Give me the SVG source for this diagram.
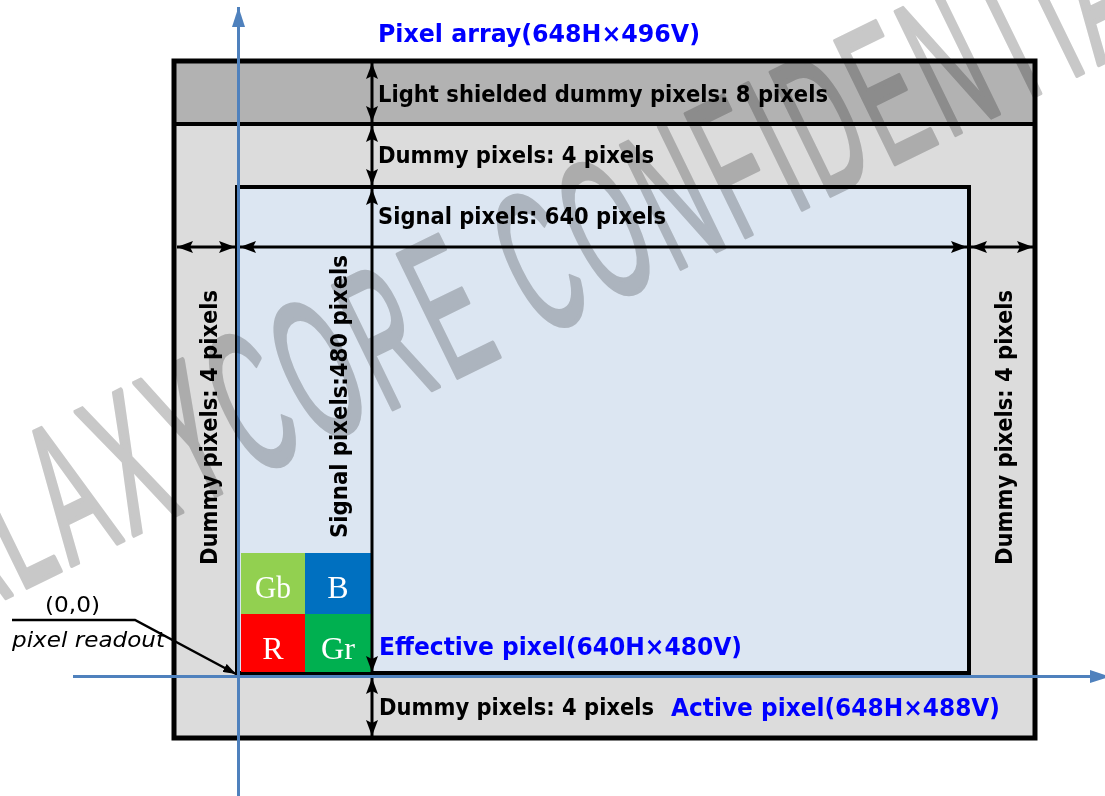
<svg xmlns="http://www.w3.org/2000/svg" width="1105" height="796" viewBox="0 0 1105 796">
  <defs>
    <!-- filled black head for the dimension lines -->
    <marker id="dim" markerUnits="userSpaceOnUse" viewBox="0 0 16 12" refX="16" refY="6" markerWidth="16" markerHeight="12" orient="auto-start-reverse">
      <path d="M0,0 L16,6 L0,12 L3,6 z" fill="#000"/>
    </marker>
    <!-- coordinate axis head -->
    <marker id="axis" markerUnits="userSpaceOnUse" viewBox="0 0 20 13" refX="20" refY="6.5" markerWidth="20" markerHeight="13" orient="auto">
      <path d="M0,0 L20,6.5 L0,13 z" fill="#4f81bd"/>
    </marker>
    <!-- leader arrow for the readout origin -->
    <marker id="lead" markerUnits="userSpaceOnUse" viewBox="0 0 13 9" refX="13" refY="4.5" markerWidth="13" markerHeight="9" orient="auto">
      <path d="M0,0 L13,4.5 L0,9 z" fill="#000"/>
    </marker>
    <style>
      .lbl{font-family:"DejaVu Sans Condensed","DejaVu Sans",sans-serif;font-weight:bold;font-size:23px;fill:#000}
      .blue{fill:#0000ff;font-size:24px}
      .note{font-family:"DejaVu Sans Condensed","DejaVu Sans",sans-serif;font-size:21px;fill:#000}
      .dl{stroke:#000;stroke-width:3;fill:none;marker-start:url(#dim);marker-end:url(#dim)}
      .ax{stroke:#4f81bd;stroke-width:3;fill:none;marker-end:url(#axis)}
      .bay{font-family:"Liberation Serif",serif;font-size:32px;fill:#fff;text-anchor:middle}
      .wm{font-family:"Liberation Sans",sans-serif;font-size:198px;letter-spacing:17px;fill:#c8c8c8;stroke:#c8c8c8;stroke-width:5;stroke-linejoin:round;mix-blend-mode:multiply}
    </style>
  </defs>

  <rect width="1105" height="796" fill="#fff"/>

  <!-- full pixel array: light shielded band on top, dummy border around -->
  <g id="pixel-array">
    <rect x="174" y="61" width="861" height="677" fill="#dcdcdc"/>
    <rect x="174" y="61" width="861" height="63" fill="#b2b2b2"/>
    <line x1="174" y1="124" x2="1035" y2="124" stroke="#000" stroke-width="4"/>
    <rect x="174" y="61" width="861" height="677" fill="none" stroke="#000" stroke-width="5"/>
  </g>

  <!-- effective (signal) area -->
  <g id="effective-area">
    <rect x="237" y="187" width="732" height="486" fill="#dce6f2" stroke="#000" stroke-width="4"/>
  </g>

  <!-- Bayer cell at the origin corner -->
  <g id="bayer-cell">
    <rect x="241" y="553" width="64" height="61" fill="#92d050"/>
    <rect x="305" y="553" width="66" height="61" fill="#0070c0"/>
    <rect x="241" y="614" width="64" height="58" fill="#ff0000"/>
    <rect x="305" y="614" width="66" height="58" fill="#00b050"/>
    <text class="bay" x="273" y="598" textLength="36" lengthAdjust="spacingAndGlyphs">Gb</text>
    <text class="bay" x="338" y="598">B</text>
    <text class="bay" x="273" y="659">R</text>
    <text class="bay" x="338" y="659" textLength="34" lengthAdjust="spacingAndGlyphs">Gr</text>
  </g>

  <g id="connectors">
    <!-- vertical dimensions -->
    <line class="dl" x1="372" y1="63" x2="372" y2="122"/>
    <line class="dl" x1="372" y1="126" x2="372" y2="185"/>
    <line class="dl" x1="372" y1="189" x2="372" y2="672"/>
    <line class="dl" x1="372" y1="678" x2="372" y2="736"/>
    <!-- horizontal dimensions -->
    <line class="dl" x1="177" y1="247" x2="235" y2="247"/>
    <line class="dl" x1="240" y1="247" x2="967" y2="247"/>
    <line class="dl" x1="971" y1="247" x2="1033" y2="247"/>
    <!-- coordinate axes -->
    <line class="ax" x1="238.5" y1="796" x2="238.5" y2="7"/>
    <line class="ax" x1="73" y1="676.5" x2="1110" y2="676.5"/>
    <!-- origin leader -->
    <polyline points="12,620 135,620 236,674" fill="none" stroke="#000" stroke-width="2.5" marker-end="url(#lead)"/>
  </g>

  <g id="labels">
    <text class="lbl blue" x="378" y="42" textLength="322" lengthAdjust="spacingAndGlyphs">Pixel array(648H×496V)</text>
    <text class="lbl" x="378" y="102" textLength="450" lengthAdjust="spacingAndGlyphs">Light shielded dummy pixels: 8 pixels</text>
    <text class="lbl" x="378" y="163" textLength="276" lengthAdjust="spacingAndGlyphs">Dummy pixels: 4 pixels</text>
    <text class="lbl" x="378" y="224" textLength="288" lengthAdjust="spacingAndGlyphs">Signal pixels: 640 pixels</text>
    <text class="lbl blue" x="379" y="655" textLength="363" lengthAdjust="spacingAndGlyphs">Effective pixel(640H×480V)</text>
    <text class="lbl" x="379" y="715" textLength="275" lengthAdjust="spacingAndGlyphs">Dummy pixels: 4 pixels</text>
    <text class="lbl blue" x="671" y="716" textLength="329" lengthAdjust="spacingAndGlyphs">Active pixel(648H×488V)</text>
    <text class="lbl" transform="translate(347,538) rotate(-90)" textLength="283" lengthAdjust="spacingAndGlyphs">Signal pixels:480 pixels</text>
    <text class="lbl" transform="translate(217,565) rotate(-90)" textLength="275" lengthAdjust="spacingAndGlyphs">Dummy pixels: 4 pixels</text>
    <text class="lbl" transform="translate(1012,565) rotate(-90)" textLength="275" lengthAdjust="spacingAndGlyphs">Dummy pixels: 4 pixels</text>
    <text class="note" x="45" y="612" textLength="55" lengthAdjust="spacingAndGlyphs">(0,0)</text>
    <text class="note" x="12" y="647" font-style="italic" textLength="153" lengthAdjust="spacingAndGlyphs">pixel readout</text>
  </g>

  <!-- document watermark -->
  <text class="wm" transform="translate(-110,654) rotate(-26) scale(0.45,1)">GALAXYCORE CONFIDENTIAL</text>
</svg>
